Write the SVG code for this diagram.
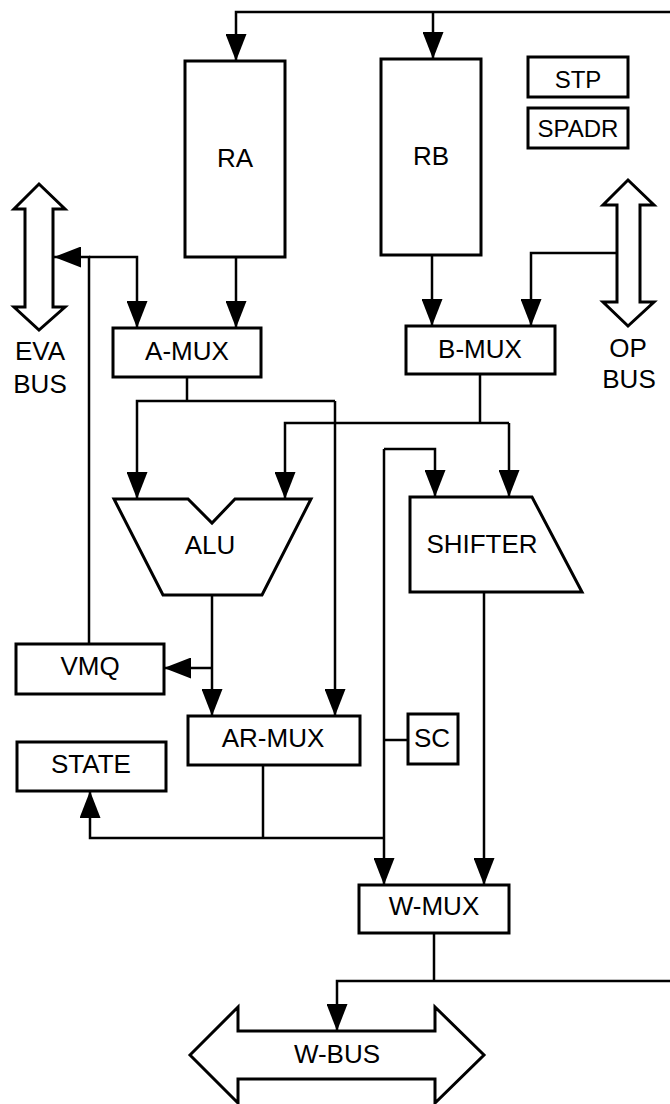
<svg xmlns="http://www.w3.org/2000/svg" width="670" height="1104" viewBox="0 0 670 1104">
<style>
.box{fill:#fff;stroke:#000;stroke-width:3}
.bus{fill:#fff;stroke:#000;stroke-width:3;stroke-linejoin:miter}
.wire{fill:none;stroke:#000;stroke-width:2.5}
.arr{marker-end:url(#ah)}
.lbl{font-family:"Liberation Sans",Arial,Helvetica,sans-serif;font-size:26px;text-anchor:middle;fill:#000}
.sm{font-size:24px}
</style>
<defs>
<marker id="ah" viewBox="0 0 27 21" refX="27" refY="10.5" markerWidth="27" markerHeight="21" markerUnits="userSpaceOnUse" orient="auto">
<path d="M0,0 L27,10.5 L0,21 Z" fill="#000"/>
</marker>
</defs>
<rect width="670" height="1104" fill="#fff"/>

<g id="connectors">
<path class="wire arr" d="M670,12 H236 V61"/>
<path class="wire arr" d="M433,12 V59"/>
<path class="wire arr" d="M236,257 V328"/>
<path class="wire arr" d="M432,255 V326"/>
<path class="wire arr" d="M89,644 V257 H54"/>
<path class="wire arr" d="M89,257 H137 V328"/>
<path class="wire arr" d="M617,253 H531 V326"/>
<path class="wire" d="M187,377 V401"/>
<path class="wire arr" d="M335,401 H137 V499"/>
<path class="wire arr" d="M335,401 V716"/>
<path class="wire" d="M480,374 V423"/>
<path class="wire arr" d="M509,423 H285 V499"/>
<path class="wire arr" d="M509,423 V497"/>
<path class="wire arr" d="M384,449 V885"/>
<path class="wire arr" d="M384,449 H435 V497"/>
<path class="wire" d="M384,740 H408"/>
<path class="wire" d="M263,765 V838"/>
<path class="wire arr" d="M384,838 H90 V791"/>
<path class="wire arr" d="M212,595 V716"/>
<path class="wire arr" d="M212,668 H164"/>
<path class="wire arr" d="M484,592 V885"/>
<path class="wire" d="M434,933 V981"/>
<path class="wire arr" d="M670,981 H337 V1031"/>
</g>

<g id="RA"><rect class="box" x="185" y="61" width="100" height="196"/><text class="lbl" x="235" y="167">RA</text></g>
<g id="RB"><rect class="box" x="381" y="59" width="100" height="196"/><text class="lbl" x="431" y="165">RB</text></g>
<g id="STP"><rect class="box" x="528" y="57" width="100" height="40"/><text class="lbl sm" x="578" y="88">STP</text></g>
<g id="SPADR"><rect class="box" x="528" y="108" width="100" height="40"/><text class="lbl sm" x="578" y="137">SPADR</text></g>
<g id="EVA-BUS"><polygon class="bus" points="39,184 65,209 53,209 53,307 65,307 39,330 14,307 25,307 25,209 14,209"/><text class="lbl" x="40" y="360">EVA</text><text class="lbl" x="40" y="393">BUS</text></g>
<g id="OP-BUS"><polygon class="bus" points="628,180 654,205 640,205 640,302 654,302 628,326 603,302 617,302 617,205 603,205"/><text class="lbl" x="628" y="357">OP</text><text class="lbl" x="629" y="388">BUS</text></g>
<g id="A-MUX"><rect class="box" x="113" y="328" width="148" height="49"/><text class="lbl" x="187" y="360">A-MUX</text></g>
<g id="B-MUX"><rect class="box" x="406" y="326" width="149" height="48"/><text class="lbl" x="480" y="358">B-MUX</text></g>
<g id="ALU"><polygon class="box" points="114,499 188,499 212,523 235,499 311,499 262,595 163,595"/><text class="lbl" x="210" y="554">ALU</text></g>
<g id="SHIFTER"><polygon class="box" points="410,497 532,497 582,592 410,592"/><text class="lbl" x="482" y="553">SHIFTER</text></g>
<g id="VMQ"><rect class="box" x="16" y="644" width="148" height="50"/><text class="lbl" x="90" y="675">VMQ</text></g>
<g id="STATE"><rect class="box" x="17" y="742" width="149" height="49"/><text class="lbl" x="91" y="773">STATE</text></g>
<g id="AR-MUX"><rect class="box" x="188" y="716" width="172" height="49"/><text class="lbl" x="273" y="747">AR-MUX</text></g>
<g id="SC"><rect class="box" x="408" y="714" width="50" height="50"/><text class="lbl" x="432" y="747">SC</text></g>
<g id="W-MUX"><rect class="box" x="359" y="885" width="150" height="48"/><text class="lbl" x="434" y="915">W-MUX</text></g>
<g id="W-BUS"><polygon class="bus" points="190,1055 238,1007 238,1031 435,1031 435,1007 484,1055 435,1103 435,1079 238,1079 238,1103"/><text class="lbl" x="337" y="1063">W-BUS</text></g>
</svg>
